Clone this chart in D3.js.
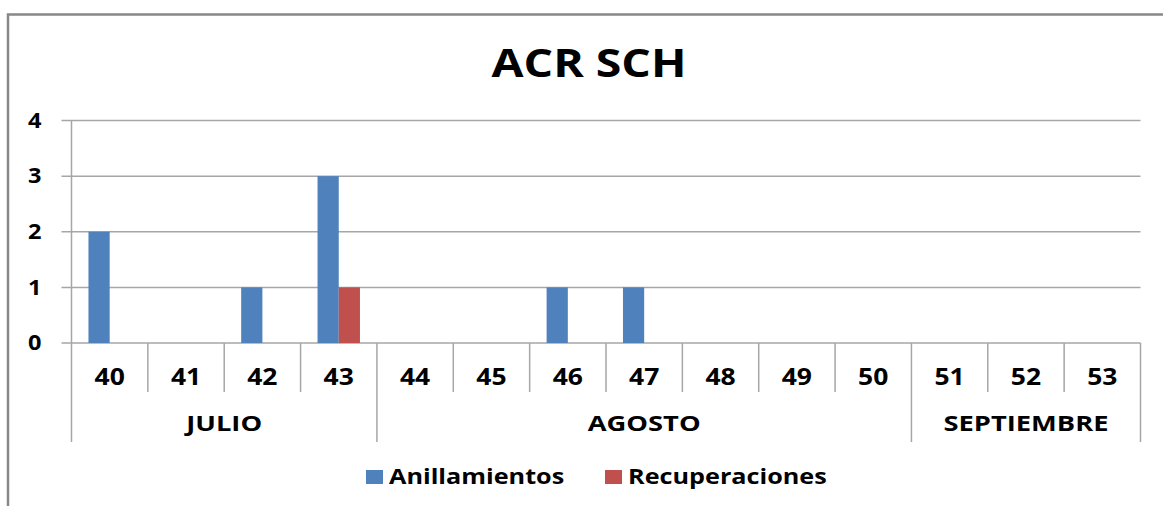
<!DOCTYPE html>
<html>
<head>
<meta charset="utf-8">
<script src="https://cdn.jsdelivr.net/npm/d3@7"></script>
<style>
  body { margin: 0; background: #fff; }
  text { font-family: "Open Sans", "DejaVu Sans", sans-serif; font-weight: bold; fill: #000; }
</style>
</head>
<body>
<div id="chart"></div>
<script>
const weeks = ["40", "41", "42", "43", "44", "45", "46", "47", "48", "49", "50", "51", "52", "53"];
const months = ["JULIO", "AGOSTO", "SEPTIEMBRE"];
const monthWeeks = [["40", "43"], ["44", "50"], ["51", "53"]];
const anillamientos = [2, 0, 1, 3, 0, 0, 1, 1, 0, 0, 0, 0, 0, 0];
const recuperaciones = [0, 0, 0, 1, 0, 0, 0, 0, 0, 0, 0, 0, 0, 0];
const seriesNames = ["Anillamientos", "Recuperaciones"];
const yTicks = [0, 1, 2, 3, 4];

const colors = ["#4F81BD", "#C0504D"];
const W = 1163, H = 506;
const margin = { top: 120.5, right: 22.5, bottom: 163, left: 71.5 };
const width = W - margin.left - margin.right,
      height = H - margin.top - margin.bottom;

// el original tiene la letra algo más ancha (Calibri estirada)
function stretch(sel, k) {
  sel.each(function () {
    const len = this.getComputedTextLength();
    d3.select(this).attr("textLength", len * k).attr("lengthAdjust", "spacingAndGlyphs");
  });
}

const svg = d3.select("#chart").append("svg")
  .attr("width", W).attr("height", H);

// marco del gráfico
svg.append("path")
  .attr("d", `M8,${H + 2} V14.5 H${W + 2}`)
  .attr("fill", "none").attr("stroke", "#888").attr("stroke-width", 2.5);

svg.append("text")
  .attr("x", 589).attr("y", 77)
  .attr("text-anchor", "middle")
  .style("font-size", "40px")
  .text("ACR SCH")
  .call(stretch, 1.16);

const g = svg.append("g").attr("transform", `translate(${margin.left},${margin.top})`);

const x = d3.scaleBand().domain(weeks).range([0, width]);
const xInner = d3.scaleBand().domain(seriesNames).range([0, x.bandwidth()]).paddingInner(0).paddingOuter(0.8);
const y = d3.scaleLinear().domain([0, 4]).range([height, 0]);

// rejilla
g.selectAll(".grid").data(yTicks).enter().append("line")
  .attr("x1", -10).attr("x2", width)
  .attr("y1", d => y(d)).attr("y2", d => y(d))
  .attr("stroke", "#A6A6A6").attr("stroke-width", 1.5);

g.selectAll(".ylab").data(yTicks).enter().append("text")
  .attr("x", -30).attr("y", d => y(d))
  .attr("dy", "0.35em")
  .attr("text-anchor", "end")
  .style("font-size", "21px")
  .text(d => d)
  .call(stretch, 1.12);

// barras
const data = weeks.map((w, i) => ({ week: w, values: [anillamientos[i], recuperaciones[i]] }));
const groups = g.selectAll(".grp").data(data).enter().append("g")
  .attr("transform", d => `translate(${x(d.week)},0)`);
groups.selectAll("rect").data(d => d.values.map((v, k) => ({ key: seriesNames[k], v, k })))
  .enter().append("rect")
  .attr("x", d => xInner(d.key))
  .attr("y", d => y(d.v))
  .attr("width", xInner.bandwidth())
  .attr("height", d => height - y(d.v))
  .attr("fill", d => colors[d.k]);

// eje x de dos niveles
const monthEdges = new Set(monthWeeks.map(m => m[0]));
const lineCol = "#A6A6A6";
g.append("line")
  .attr("x1", 0).attr("x2", 0).attr("y1", 0).attr("y2", height + 99)
  .attr("stroke", lineCol).attr("stroke-width", 1.5);
weeks.forEach((w, i) => {
  if (i === 0) return;
  g.append("line")
    .attr("x1", x(w)).attr("x2", x(w))
    .attr("y1", height).attr("y2", height + (monthEdges.has(w) ? 99 : 49))
    .attr("stroke", lineCol).attr("stroke-width", 1.5);
});
g.append("line")
  .attr("x1", width).attr("x2", width).attr("y1", height).attr("y2", height + 99)
  .attr("stroke", lineCol).attr("stroke-width", 1.5);

g.selectAll(".xlab").data(weeks).enter().append("text")
  .attr("x", d => x(d) + x.bandwidth() / 2)
  .attr("y", height + 42)
  .attr("text-anchor", "middle")
  .style("font-size", "23px")
  .text(d => d)
  .call(stretch, 1.15);

g.selectAll(".mlab").data(months).enter().append("text")
  .attr("x", (d, i) => (x(monthWeeks[i][0]) + x(monthWeeks[i][1]) + x.bandwidth()) / 2)
  .attr("y", height + 88)
  .attr("text-anchor", "middle")
  .style("font-size", "21px")
  .text(d => d)
  .call(stretch, 1.3);

// leyenda
const legendX = [366, 605];
const legend = svg.selectAll(".leg").data(seriesNames).enter().append("g")
  .attr("transform", (d, i) => `translate(${legendX[i]},470)`);
legend.append("rect").attr("width", 17).attr("height", 14)
  .attr("fill", (d, i) => colors[i]);
legend.append("text").attr("x", 23).attr("y", 14)
  .style("font-size", "21px")
  .text(d => d)
  .call(stretch, 1.2);
</script>
</body>
</html>
